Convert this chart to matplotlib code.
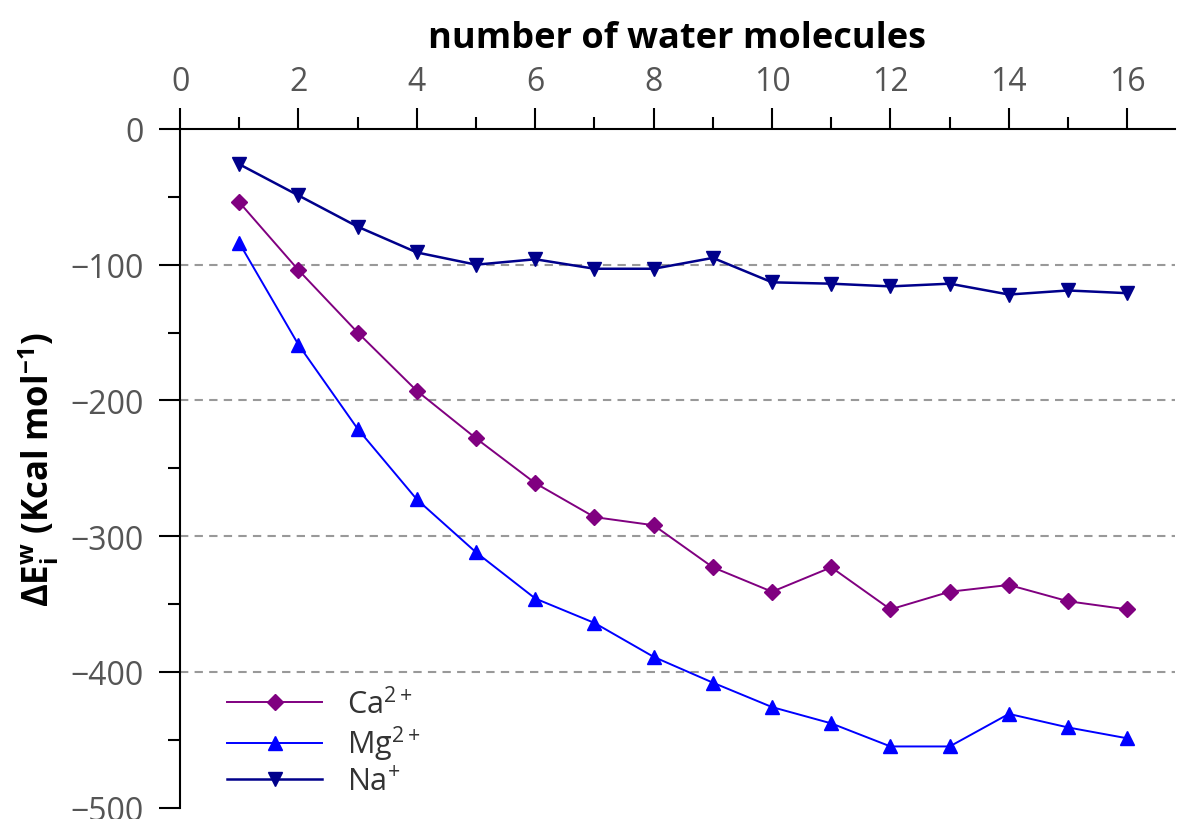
import numpy as np
import matplotlib
matplotlib.use("Agg")
import matplotlib.pyplot as plt
from matplotlib.ticker import MultipleLocator

plt.rcParams['font.family'] = ['Open Sans', 'DejaVu Sans']
plt.rcParams['mathtext.fontset'] = 'custom'
plt.rcParams['mathtext.rm'] = 'Open Sans'
plt.rcParams['mathtext.it'] = 'Open Sans'
plt.rcParams['mathtext.bf'] = 'Open Sans:bold'

# data
n_water = np.arange(1, 17)
ca = [-54, -104, -150, -193, -228, -261, -286, -292, -323, -341,
      -323, -354, -341, -336, -348, -354]
mg = [-84, -159, -221, -273, -312, -346, -364, -389, -408, -426,
      -438, -455, -455, -431, -441, -449]
na = [-26, -49, -72, -91, -100, -96, -103, -103, -95, -113,
      -114, -116, -114, -122, -119, -121]

labels = ["Ca$^{2+}$", "Mg$^{2+}$", "Na$^{+}$"]
colors = ["#800080", "#0000ff", "#00008b"]
markers = ["D", "^", "v"]

tick_color = "#555555"

fig = plt.figure(figsize=(11.77, 8.2), dpi=100)
ax = fig.add_axes([0.153, 0.014, 0.845, 0.8275])

for y, lab, c, m in zip([ca, mg, na], labels, colors, markers):
    ms = 8.5 if m == "D" else 10.5
    lw = 1.8 if m == "v" else 1.4
    ax.plot(n_water, y, color=c, marker=m, markersize=ms, linewidth=lw,
            label=lab)

ax.set_xlim(0, 16.8)
ax.set_ylim(-500, 0)

for v in [-100, -200, -300, -400]:
    ax.axhline(v, color="#999999", linestyle=(0, (4, 3)), linewidth=1.5,
               zorder=0)

ax.xaxis.tick_top()
ax.xaxis.set_label_position("top")
ax.xaxis.set_major_locator(MultipleLocator(2))
ax.xaxis.set_minor_locator(MultipleLocator(1))
ax.yaxis.set_major_locator(MultipleLocator(100))
ax.yaxis.set_minor_locator(MultipleLocator(50))

for s in ["right", "bottom"]:
    ax.spines[s].set_visible(False)
for s in ["top", "left"]:
    ax.spines[s].set_linewidth(1.5)

ax.tick_params(axis="x", which="major", direction="out", length=15,
               width=1.5, pad=7, labelsize=23, labelcolor=tick_color)
ax.tick_params(axis="x", which="minor", direction="out", length=8.5, width=1.5)
ax.tick_params(axis="y", which="major", direction="out", length=15,
               width=1.5, pad=11, labelsize=23, labelcolor=tick_color)
ax.tick_params(axis="y", which="minor", direction="out", length=8.5, width=1.5)

ax.set_xlabel("number of water molecules", fontsize=26, fontweight="bold",
              labelpad=13)
ax.set_ylabel(r"$\mathbf{\Delta E_i^w}$ (Kcal mol$^{\mathbf{-1}}$)",
              fontsize=25, fontweight="bold", labelpad=7)

leg = ax.legend(loc="lower left", bbox_to_anchor=(0.02, -0.025), frameon=False,
                fontsize=22, handlelength=3.1, labelspacing=0.12,
                handletextpad=0.8)
for t in leg.get_texts():
    t.set_color("#333333")

fig.savefig("out.png", dpi=100)
